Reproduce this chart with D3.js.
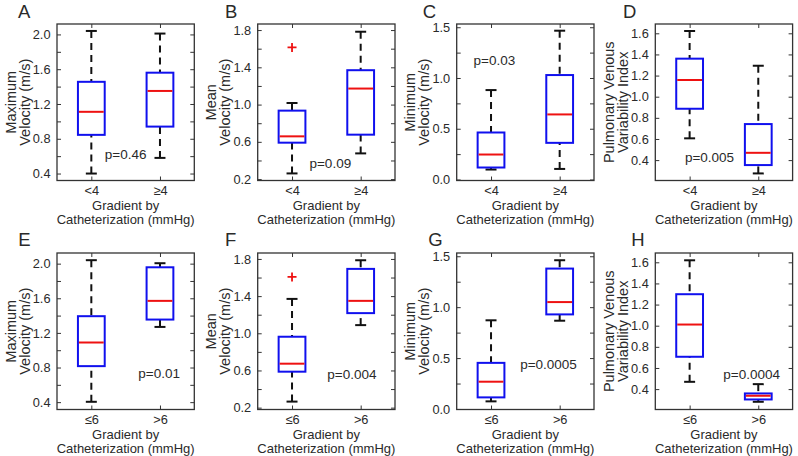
<!DOCTYPE html>
<html><head><meta charset="utf-8">
<script src="https://cdn.jsdelivr.net/npm/d3@7"></script>
<style>
body{margin:0;background:#fff}
svg{display:block}
text{font-family:Arial,"Liberation Sans",Helvetica,sans-serif;fill:#2a2a2a}
</style></head><body>
<svg id="c" width="798" height="456"></svg>
<script>
// ---------------- data ----------------
const panelLetters = ["A","B","C","D","E","F","G","H"];
const yLabels = [
  ["Maximum","Velocity (m/s)"],["Mean","Velocity (m/s)"],["Minimum","Velocity (m/s)"],["Pulmonary Venous","Variability Index"],
  ["Maximum","Velocity (m/s)"],["Mean","Velocity (m/s)"],["Minimum","Velocity (m/s)"],["Pulmonary Venous","Variability Index"]
];
const groupsTop = ["<4","≥4"];
const groupsBottom = ["≤6",">6"];
const xTitle = ["Gradient by","Catheterization (mmHg)"];
const yDomains = [[0.32,2.12],[0.185,1.865],[-0.01,1.532],[0.207,1.688],[0.315,2.123],[0.18,1.864],[-0.005,1.532],[0.207,1.688]];
const yTickValues = [
  [0.4,0.6,0.8,1.0,1.2,1.4,1.6,1.8,2.0],[0.2,0.4,0.6,0.8,1.0,1.2,1.4,1.6,1.8],[0,0.25,0.5,0.75,1.0,1.25,1.5],[0.4,0.6,0.8,1.0,1.2,1.4,1.6],
  [0.4,0.6,0.8,1.0,1.2,1.4,1.6,1.8,2.0],[0.2,0.4,0.6,0.8,1.0,1.2,1.4,1.6,1.8],[0,0.25,0.5,0.75,1.0,1.25,1.5],[0.4,0.6,0.8,1.0,1.2,1.4,1.6]
];
const yTickLabels = [
  ["0.4","","0.8","","1.2","","1.6","","2.0"],["0.2","","0.6","","1.0","","1.4","","1.8"],["0.0","","0.5","","1.0","","1.5"],["0.4","0.6","0.8","1.0","1.2","1.4","1.6"],
  ["0.4","","0.8","","1.2","","1.6","","2.0"],["0.2","","0.6","","1.0","","1.4","","1.8"],["0.0","","0.5","","1.0","","1.5"],["0.4","0.6","0.8","1.0","1.2","1.4","1.6"]
];
// per panel, per group
const whiskerLow  = [[0.40,0.58],[0.261,0.476],[0.098,0.104],[0.606,0.274],[0.404,1.269],[0.265,1.088],[0.075,0.867],[0.469,0.280]];
const q1          = [[0.845,0.94],[0.591,0.677],[0.118,0.361],[0.886,0.353],[0.816,1.354],[0.587,1.217],[0.114,0.929],[0.706,0.302]];
const medians     = [[1.11,1.35],[0.659,1.172],[0.246,0.641],[1.158,0.469],[1.089,1.57],[0.673,1.349],[0.268,1.05],[1.011,0.337]];
const q3          = [[1.455,1.56],[0.935,1.369],[0.463,1.029],[1.36,0.741],[1.393,1.958],[0.963,1.693],[0.453,1.379],[1.298,0.359]];
const whiskerHigh = [[2.04,2.01],[1.017,1.782],[0.881,1.466],[1.622,1.293],[2.04,2.005],[1.37,1.786],[0.871,1.461],[1.619,0.447]];
const outliers    = [[],[{g:0,v:1.614}],[],[],[],[{g:0,v:1.607}],[],[]];
const pTexts  = ["p=0.46","p=0.09","p=0.03","p=0.005","p=0.01","p=0.004","p=0.0005","p=0.0004"];
const pAnchors = [[1.5,0.622],[1.558,0.368],[1.049,1.177],[1.29,0.424],[1.987,0.728],[1.873,0.557],[1.837,0.439],[1.903,0.538]];

// ---------------- layout ----------------
const colLeft = [57,257.7,456.7,655.3];
const rowTop = [24,253];
const W = 137.3, H = 156.5;
const letterDX = [-39,-32.7,-34,-32.3,-38.7,-32.7,-28.5,-24];
const letterBaseline = [18.3,246.3];
const boxHalf = 0.195, capHalf = 0.08;
const FONT = "Arial, 'Liberation Sans', sans-serif";

const svg = d3.select("#c");

panelLetters.forEach((L,i)=>{
  const r = Math.floor(i/4), c = i%4;
  const left = colLeft[c], top = rowTop[r];
  const g = svg.append("g").attr("transform",`translate(${left},${top})`);
  const x = d3.scaleLinear().domain([0.5,2.5]).range([0,W]);
  const y = d3.scaleLinear().domain(yDomains[i]).range([H,0]);
  const cats = r===0 ? groupsTop : groupsBottom;

  // frame
  g.append("rect").attr("width",W).attr("height",H).attr("fill","none").attr("stroke","#333").attr("stroke-width",1.3);

  // y axis left (inward ticks)
  const tl = yTickLabels[i];
  const yAxL = d3.axisLeft(y).tickValues(yTickValues[i]).tickSize(-4).tickPadding(6.5)
      .tickFormat((d,k)=>tl[k]);
  const ga = g.append("g").call(yAxL);
  ga.select(".domain").remove();
  ga.selectAll("line").attr("stroke","#333");
  ga.selectAll("text").attr("font-size",12.8).attr("fill","#2a2a2a").style("font-family",FONT);
  const gr = g.append("g").attr("transform",`translate(${W},0)`).call(d3.axisRight(y).tickValues(yTickValues[i]).tickSize(-4).tickFormat(""));
  gr.select(".domain").remove(); gr.selectAll("line").attr("stroke","#333");

  // x axis
  const xAxB = d3.axisBottom(x).tickValues([1,2]).tickSize(-4).tickPadding(5.5).tickFormat((d,k)=>cats[k]);
  const gb = g.append("g").attr("transform",`translate(0,${H})`).call(xAxB);
  gb.select(".domain").remove(); gb.selectAll("line").attr("stroke","#333");
  gb.selectAll("text").attr("font-size",12.8).attr("fill","#2a2a2a").style("font-family",FONT);
  const gt = g.append("g").call(d3.axisTop(x).tickValues([1,2]).tickSize(-4).tickFormat(""));
  gt.select(".domain").remove(); gt.selectAll("line").attr("stroke","#333");

  // x title
  g.append("text").attr("x",W/2).attr("y",H+29).attr("text-anchor","middle").attr("font-size",13).text(xTitle[0]);
  g.append("text").attr("x",W/2).attr("y",H+43).attr("text-anchor","middle").attr("font-size",13).text(xTitle[1]);

  // y title
  [[-46.5,yLabels[i][0]],[-32.5,yLabels[i][1]]].forEach(([dx,t])=>{
    g.append("text").attr("transform",`translate(${dx},${H/2}) rotate(-90)`)
      .attr("text-anchor","middle").attr("dy","0.35em").attr("font-size",14.5).text(t);
  });

  // panel letter
  svg.append("text").attr("x",left+letterDX[i]).attr("y",letterBaseline[r]).attr("font-size",18.5).text(L);

  // boxes
  [0,1].forEach(k=>{
    const cx = k+1;
    const lo = whiskerLow[i][k], a = q1[i][k], m = medians[i][k], b = q3[i][k], hi = whiskerHigh[i][k];
    g.append("line").attr("x1",x(cx)).attr("x2",x(cx)).attr("y1",y(hi)).attr("y2",y(b))
      .attr("stroke","#111").attr("stroke-width",2).attr("stroke-dasharray","7,5");
    g.append("line").attr("x1",x(cx)).attr("x2",x(cx)).attr("y1",y(lo)).attr("y2",y(a))
      .attr("stroke","#111").attr("stroke-width",2).attr("stroke-dasharray","7,5");
    [lo,hi].forEach(v=>{
      g.append("line").attr("x1",x(cx-capHalf)).attr("x2",x(cx+capHalf)).attr("y1",y(v)).attr("y2",y(v))
        .attr("stroke","#111").attr("stroke-width",2);
    });
    g.append("rect").attr("x",x(cx-boxHalf)).attr("width",x(cx+boxHalf)-x(cx-boxHalf))
      .attr("y",y(b)).attr("height",y(a)-y(b)).attr("fill","none").attr("stroke","#1010ee").attr("stroke-width",2);
    g.append("line").attr("x1",x(cx-boxHalf)+1).attr("x2",x(cx+boxHalf)-1).attr("y1",y(m)).attr("y2",y(m))
      .attr("stroke","#ee1111").attr("stroke-width",2);
  });
  outliers[i].forEach(o=>{
    const px = x(o.g+1), py = y(o.v);
    g.append("path").attr("d",`M${px-4.5},${py}H${px+4.5}M${px},${py-4.5}V${py+4.5}`)
      .attr("stroke","#ee1111").attr("stroke-width",1.8);
  });

  // p value
  g.append("text").attr("x",x(pAnchors[i][0])).attr("y",y(pAnchors[i][1])).attr("dy","0.35em")
    .attr("text-anchor","middle").attr("font-size",13.5).text(pTexts[i]);
});
</script>
</body></html>
